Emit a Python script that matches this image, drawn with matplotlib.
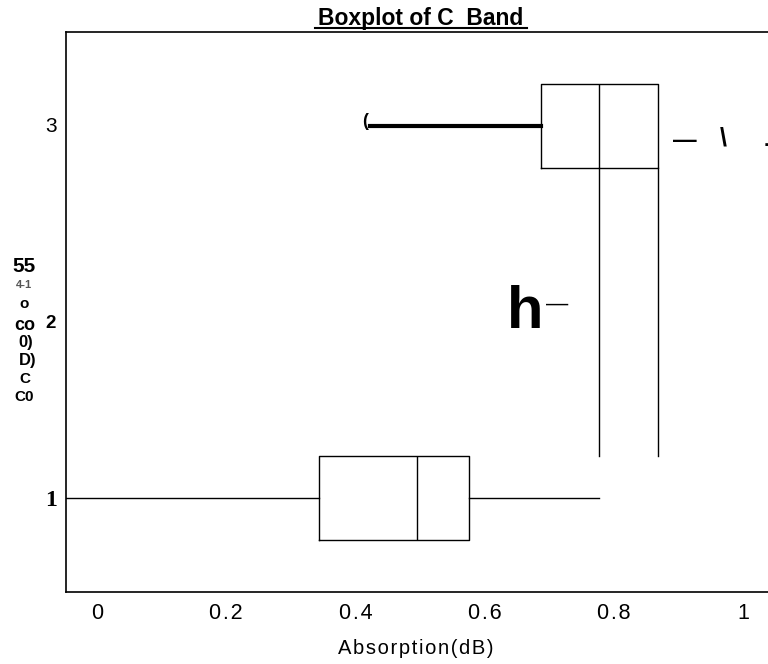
import matplotlib
matplotlib.use("Agg")
from matplotlib import pyplot as plt
from matplotlib.lines import Line2D

# ===== Dados =====
bandas = [1, 3]
q1 = [0.343, 0.687]
mediana = [0.495, 0.776]
q3 = [0.575, 0.868]
bigode_min = [-0.06, 0.422]
bigode_max = [0.776, 0.868]

# linhas verticais que descem da caixa 3 até a caixa 1
linhas_x = [0.776, 0.868]
linhas_y = [1.225, 2.775]

x_ticks = [0, 0.2, 0.4, 0.6, 0.8, 1]
x_labels = ["0", "0.2", "0.4", "0.6", "0.8", "1"]

# rótulo do eixo y (texto embaralhado)
ylabel_pedacos = ["55", "4-1", "o", "co", "0)", "D)", "C", "C0"]

W, H = 768, 664
sans = ["Liberation Sans", "DejaVu Sans"]
narrow = ["Liberation Sans Narrow", "Liberation Sans", "DejaVu Sans"]


def espaco(s):
    # letras um pouco espaçadas, como no original
    return "\u200a".join(s)


fig = plt.figure(figsize=(W / 100, H / 100), dpi=100)
ax = fig.add_axes([66 / W, 1 - 592 / H, 1 - 66 / W, (592 - 32) / H])


def ftext(x, y, s, **kw):
    # texto posicionado em pixels da figura
    fig.text(x / W, 1 - y / H, s, **kw)


stats = []
for i in range(len(bandas)):
    stats.append(dict(med=mediana[i], q1=q1[i], q3=q3[i],
                      whislo=bigode_min[i], whishi=bigode_max[i], fliers=[]))

bp = ax.bxp(stats, positions=bandas, vert=False, widths=0.45, showcaps=False,
            showfliers=False, patch_artist=False,
            boxprops=dict(color="black", lw=1.0),
            medianprops=dict(color="black", lw=1.0),
            whiskerprops=dict(color="black", lw=1.0))
# bigode esquerdo da banda 3 é mais grosso
bp["whiskers"][2].set_linewidth(3)

for x in linhas_x:
    ax.plot([x, x], linhas_y, color="black", lw=1.0)

ax.set_xlim(-0.048, 1.038)
ax.set_ylim(0.495, 3.505)
ax.spines["right"].set_visible(False)
for s in ["left", "bottom", "top"]:
    ax.spines[s].set_linewidth(1.2)
ax.tick_params(length=0)
ax.set_xticks(x_ticks)
ax.set_xticklabels([espaco(t) for t in x_labels], fontsize=15.5, family=sans)
ax.tick_params(axis="x", pad=8)
ax.set_yticks([])

# rótulos do eixo y
ftext(57, 127, "3", ha="right", va="center", fontsize=15, family=sans)
ftext(56, 323, "2", ha="right", va="center", fontsize=13.5, family=sans, weight="bold")
ftext(57, 501, "1", ha="right", va="center", fontsize=17, family="Liberation Serif", weight="bold")

# eixo x
ftext(416, 649, espaco("Absorption(dB)"), ha="center", va="center", fontsize=14.5, family=sans)

# título sublinhado
ftext(421, 18, "Boxplot of C  Band", ha="center", va="center", fontsize=16.5,
      family=sans, weight="bold")
fig.add_artist(Line2D([315 / W, 527 / W], [1 - 27.5 / H, 1 - 27.5 / H], color="black", lw=1.5))

# pedaços do rótulo y
ys = [267, 285, 304, 325, 343, 361, 379, 397]
xs = [24, 24, 24, 25, 26, 28, 25, 24]
tam = [15, 8, 11, 13, 12, 12, 11, 11]
cores = ["black", "#555555", "black", "black", "black", "black", "black", "black"]
for s, x, y, t, c in zip(ylabel_pedacos, xs, ys, tam, cores):
    ftext(x, y, s, ha="center", va="center", fontsize=t, family=narrow,
          weight="bold", color=c)

# marcas soltas
ftext(362, 121, "(", ha="left", va="center", fontsize=13, family=sans, weight="bold")
ftext(685, 141, "—", ha="center", va="center", fontsize=17, family=sans, weight="bold")
ftext(723, 139, "\\", ha="center", va="center", fontsize=18, family=sans, weight="bold")
ftext(766, 141, ".", ha="center", va="center", fontsize=14, family=sans, weight="bold")
ftext(507, 312, "h", ha="left", va="center", fontsize=43, family=sans, weight="bold")
ftext(557, 304, "—", ha="center", va="center", fontsize=16, family=sans)

fig.savefig("out.png", dpi=100)
